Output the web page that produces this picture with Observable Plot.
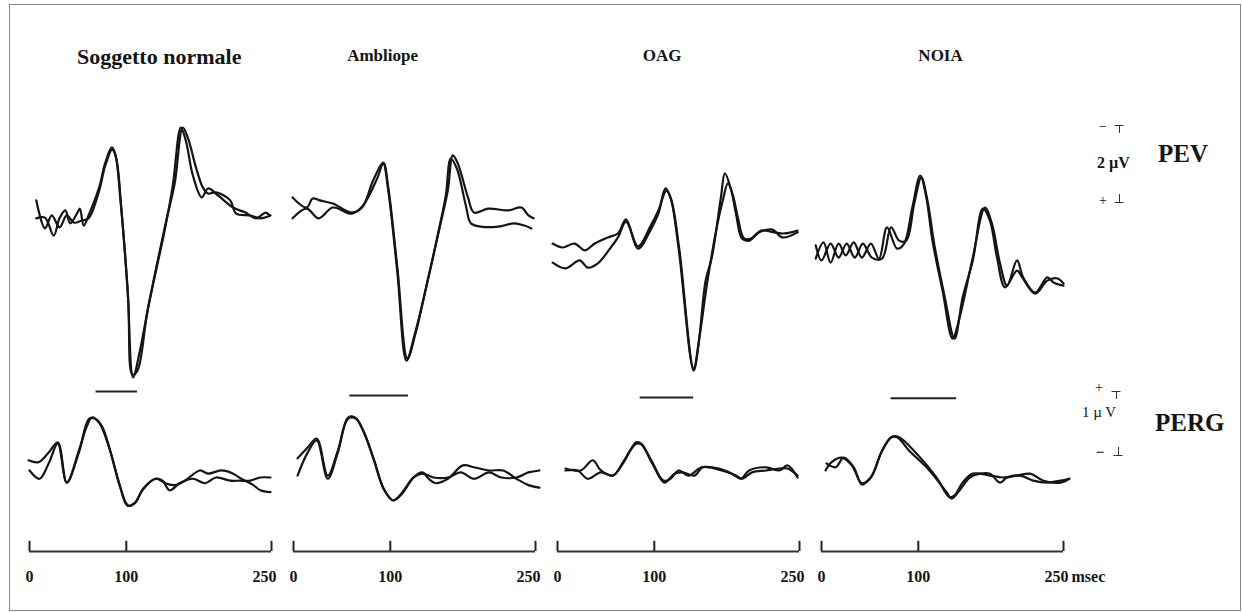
<!DOCTYPE html>
<html><head><meta charset="utf-8">
<script src="https://cdn.jsdelivr.net/npm/d3@7"></script>
<script src="https://cdn.jsdelivr.net/npm/@observablehq/plot@0.6"></script>
<style>
body{margin:0;background:#fff;}
#wrap{position:relative;width:1242px;height:612px;overflow:hidden;background:#fff;}
#wrap > svg{display:block;}
#over{position:absolute;left:0;top:0;pointer-events:none;}
</style></head><body><div id="wrap"></div>
<script>
// ---------- categories & tick labels ----------
const groups = ["Soggetto normale", "Ambliope", "OAG", "NOIA"];
const timeTicks = [0, 100, 250];           // msec
// ---------- PEV traces: [msec, µV] (negative drawn upward) ----------
const pev_normale_a = [[7,-0.06],[16,-0.08],[25,0.42],[31,-0.06],[37,-0.28],[42,0.08],[49,-0.19],[52,-0.33],[56,0.14],[61,-0.14],[72,-0.92],[78,-1.58],[85,-2.03],[88.5,-1.86],[94,-0.56],[101,1.75],[107,4.36],[113.5,3.69],[124,2.22],[140.6,0.08],[150,-1.03],[158.3,-2.58],[163.5,-2.31],[172,-1.47],[179,-0.92],[184.4,-0.75],[192.7,-0.78],[207.3,-0.56],[213.5,-0.19],[228,-0.14],[238.5,-0.06],[249,-0.14]];
const pev_normale_b = [[7,-0.56],[16,0.22],[23,-0.14],[31,0.19],[38.5,-0.14],[46,0.06],[54,0],[61,-0.06],[72,-0.83],[78,-1.5],[85.4,-1.97],[89.6,-1.72],[95,-0.28],[102,2.22],[106.3,4.28],[111.5,4.17],[122,2.5],[139.6,0.28],[148,-0.97],[156.3,-2.58],[161.5,-2.22],[168.8,-1.25],[178,-0.64],[184.4,-0.89],[195,-0.69],[210.4,-0.36],[223,-0.22],[234,-0.06],[244,-0.22],[248,-0.14]];
const pev_ambliope_a = [[-1,-0.64],[13.5,-0.36],[19.8,-0.61],[27,-0.56],[40.6,-0.47],[60.4,-0.22],[70.8,-0.36],[82.3,-1.11],[92.7,-1.61],[97.9,-0.92],[107.3,1.31],[117.7,3.83],[126,3.14],[138.5,1.67],[152,0.08],[159.4,-0.83],[164.6,-1.81],[169.8,-1.58],[180.2,-0.64],[186.5,-0.22],[201,-0.33],[221.9,-0.28],[235.4,-0.36],[242.7,-0.14],[248,-0.06]];
const pev_ambliope_b = [[-1,-0.06],[13.5,-0.33],[26,-0.06],[40.6,-0.36],[60.4,-0.19],[71.9,-0.42],[86.5,-1.17],[92.7,-1.58],[97.9,-0.83],[107.3,1.44],[116.7,3.89],[125,3.19],[137.5,1.81],[150,0.28],[157.3,-0.69],[162.5,-1.72],[168.8,-1.44],[178,-0.42],[183.3,0.08],[193.8,0.17],[211.5,0.17],[228,0.08],[238.5,0.14],[245.8,0.22]];
const pev_oag_a = [[-5,0.64],[5.2,0.75],[17.7,0.64],[28.1,0.83],[38.5,0.64],[52,0.47],[62.5,0.36],[70.8,-0.03],[83.3,0.78],[95.8,0.28],[104.2,-0.19],[111.5,-0.89],[116.7,-0.64],[125,0.75],[140.6,4.17],[145.8,3.42],[153,1.67],[159.4,1.03],[168.8,-0.64],[172.9,-1.31],[179,-0.89],[184.4,-0.19],[190.6,0.5],[197.9,0.56],[208.3,0.33],[221.9,0.25],[232.3,0.47],[248,0.33]];
const pev_oag_b = [[-5,1.17],[8.3,1.33],[22.9,1.11],[31.3,1.31],[41.7,1.19],[54.2,0.78],[62.5,0.47],[70.8,0.03],[83.3,0.72],[95.8,0.17],[104.2,-0.28],[112.5,-0.83],[117.7,-0.56],[126,0.83],[140.6,4.11],[146.9,3.19],[154.2,1.81],[163.5,0.33],[170.8,-0.56],[176,-1.03],[181.3,-0.69],[186.5,-0.06],[192.7,0.5],[200,0.5],[210.4,0.28],[224,0.33],[234.4,0.36],[248,0.28]];
const pev_noia_a = [[-6,1.06],[2.1,0.61],[9.4,1.17],[17.7,0.64],[25,0.97],[33.3,0.61],[41.7,1.03],[51,0.64],[59.4,1.06],[67.7,0.19],[78.1,0.78],[85.4,0.64],[93.8,-0.36],[102,-1.25],[108.3,-0.64],[114.6,0.56],[125,1.94],[135.4,3.28],[142.7,2.69],[156.3,1.03],[168.8,-0.36],[176,0.08],[184.4,1.19],[191.7,1.81],[202,1.11],[208.3,1.58],[220.8,2],[233.3,1.58],[239.6,1.72],[250,1.81]];
const pev_noia_b = [[-6,0.69],[0,1.11],[9.4,0.64],[17.7,1.03],[26,0.64],[34.4,1.03],[42.7,0.64],[52,1.03],[62.5,1.06],[71.9,0.19],[80.2,0.56],[87.5,0.56],[95.8,-0.47],[103.1,-1.19],[109.4,-0.56],[116.7,0.69],[127,2.08],[137.5,3.28],[145.8,2.14],[156.3,1.11],[166.7,-0.33],[174,0],[181.3,1.03],[189.6,1.86],[202,1.39],[207.3,1.58],[220.8,2.03],[233.3,1.67],[243.8,1.61],[250,1.75]];
// ---------- PERG traces: [msec, µV] (positive upward) ----------
const perg_normale_a = [[-1,0.16],[9.4,0.13],[19.8,0.28],[29.2,0.44],[38.5,-0.19],[51,0.31],[59.4,0.7],[64.6,0.83],[71.9,0.75],[82.3,0.36],[92.7,-0.2],[101,-0.55],[108.3,-0.52],[116.7,-0.31],[130.2,-0.13],[140.6,-0.2],[150,-0.23],[160.4,-0.16],[176,0],[184.4,-0.05],[198,0],[210.4,-0.05],[218.8,-0.13],[231.3,-0.23],[238.5,-0.31],[249,-0.34]];
const perg_normale_b = [[0,0],[10.4,-0.13],[19.8,0.11],[29.2,0.42],[38.5,-0.19],[51,0.28],[61.5,0.81],[67.7,0.81],[75,0.69],[83.3,0.31],[93.8,-0.27],[102,-0.55],[109.4,-0.5],[117.7,-0.28],[130.2,-0.13],[137.5,-0.16],[144.8,-0.31],[155.2,-0.2],[168.8,-0.13],[181.3,-0.2],[192.7,-0.11],[207.3,-0.16],[217.7,-0.16],[228,-0.16],[238.5,-0.11],[249,-0.11]];
const perg_ambliope_a = [[4.2,0.19],[14.6,0.36],[24,0.5],[35.4,-0.08],[45.8,0.31],[56.3,0.83],[63.5,0.83],[71.9,0.63],[82.3,0.2],[92.7,-0.27],[103.1,-0.47],[112.5,-0.36],[124,-0.11],[133.3,-0.03],[139.6,-0.13],[146.9,-0.2],[159.4,-0.13],[175,0.08],[186.5,0.05],[202,0],[216.7,0],[230.2,-0.13],[242.7,-0.23],[254,-0.27]];
const perg_ambliope_b = [[4.2,-0.08],[14.6,0.28],[24,0.47],[35.4,-0.13],[45.8,0.28],[56.3,0.81],[64.6,0.81],[72.9,0.59],[83.3,0.16],[93.8,-0.31],[103.1,-0.47],[112.5,-0.34],[124,-0.11],[133.3,-0.05],[144.8,-0.11],[159.4,-0.11],[172.9,-0.03],[186.5,-0.13],[202,-0.03],[214.6,-0.11],[230.2,-0.11],[242.7,-0.03],[254,0]];
const perg_oag_a = [[8.3,0.03],[24,0],[36.5,0.16],[44.8,0],[57.3,-0.08],[67.7,0.13],[76,0.34],[81.3,0.44],[86.5,0.42],[96.9,0.16],[109.4,-0.16],[116.7,-0.13],[125,0],[135.4,-0.08],[149,0.05],[166.7,0.03],[180.2,-0.05],[189.6,-0.13],[197.9,0],[215.6,0.05],[229.2,0],[237.5,0.08],[248,-0.11]];
const perg_oag_b = [[8.3,0],[20.8,0],[31.3,-0.13],[44.8,-0.03],[57.3,-0.08],[67.7,0.11],[76,0.33],[81.3,0.42],[86.5,0.41],[97.9,0.11],[110.4,-0.19],[121,-0.05],[129.2,-0.03],[141.7,-0.08],[150,0.05],[169.8,0],[184.4,-0.08],[190.6,-0.13],[201,-0.03],[215.6,0],[229.2,0.03],[237.5,0.03],[248,-0.08]];
const perg_noia_a = [[4.2,0],[10.4,0.13],[20.8,0.2],[31.3,0.08],[41.7,-0.2],[51,-0.11],[61.5,0.27],[71.9,0.52],[78.1,0.52],[90.6,0.31],[111.5,0],[129.2,-0.34],[134.4,-0.44],[142.7,-0.31],[153.1,-0.11],[163.5,-0.05],[174,-0.05],[184.4,-0.19],[191.7,-0.11],[205.2,-0.08],[218.8,-0.16],[233.3,-0.19],[246.9,-0.16],[256,-0.13]];
const perg_noia_b = [[5.2,0.11],[14.6,0.05],[22.9,0.2],[33.3,0.05],[41.7,-0.22],[52.1,-0.08],[62.5,0.31],[72.9,0.53],[80.2,0.52],[97.9,0.27],[118.8,-0.11],[132.3,-0.42],[137.5,-0.39],[145.8,-0.19],[156.3,-0.05],[174,-0.08],[187.5,-0.11],[202,-0.08],[215.6,-0.05],[229.2,-0.16],[246.9,-0.19],[256,-0.13]];
// ---------- horizontal bars under PEV (msec range) ----------
const barStart = [68.8, 58.3, 85.4, 71.9];
const barEnd   = [111.5, 118.8, 140.6, 139.6];
const barLevel = [4.75, 4.86, 4.92, 4.94];   // µV position on PEV scale
// ---------- layout constants ----------
const titleAt = [134, 92, 108, 123];          // msec where each title is centred
const titleSize = [22, 17, 17, 17];
const serif = "'Liberation Serif','Times New Roman',serif";
const ink = "#151515";

// ---------- build tidy tables ----------
function tidy(list) {
  const out = [];
  list.forEach(([group, trace, pts]) => pts.forEach(([t, v]) => out.push({group, trace: group + trace, t, v})));
  return out;
}
const pevData = tidy([
  [groups[0], "a", pev_normale_a], [groups[0], "b", pev_normale_b],
  [groups[1], "a", pev_ambliope_a], [groups[1], "b", pev_ambliope_b],
  [groups[2], "a", pev_oag_a], [groups[2], "b", pev_oag_b],
  [groups[3], "a", pev_noia_a], [groups[3], "b", pev_noia_b]
]);
const pergData = tidy([
  [groups[0], "a", perg_normale_a], [groups[0], "b", perg_normale_b],
  [groups[1], "a", perg_ambliope_a], [groups[1], "b", perg_ambliope_b],
  [groups[2], "a", perg_oag_a], [groups[2], "b", perg_oag_b],
  [groups[3], "a", perg_noia_a], [groups[3], "b", perg_noia_b]
]);
const bars = groups.map((g, i) => ({group: g, start: barStart[i], end: barEnd[i], level: barLevel[i]}));
const titles = groups.map((g, i) => ({group: g, at: titleAt[i], size: titleSize[i]}));

const fxOpts = {domain: groups, paddingInner: 0.082, paddingOuter: 0, axis: null, label: null};
const common = {width: 1242, marginLeft: 28, marginRight: 177, style: {background: "#fff", overflow: "visible"}};

const pevY = [-3.5, 5];
const pev = Plot.plot({
  ...common, height: 410, marginTop: 94, marginBottom: 10,
  fx: fxOpts,
  x: {domain: [0, 250], axis: null},
  y: {domain: pevY, reverse: true, axis: null},
  marks: [
    Plot.line(pevData, {fx: "group", x: "t", y: "v", z: "trace", curve: "catmull-rom", stroke: ink, strokeWidth: 2.2}),
    Plot.ruleY(bars, {fx: "group", y: "level", x1: "start", x2: "end", stroke: "#222", strokeWidth: 2}),
    Plot.text(titles, {fx: "group", x: "at", text: "group", frameAnchor: "top", dy: -46,
      fontSize: "size", fontWeight: "bold", fontFamily: serif, fill: ink})
  ]
});

const pergY = [-1.27, 0.94];
const tickUp = 0.16;
const perg = Plot.plot({
  ...common, height: 202, marginTop: 0, marginBottom: 61,
  fx: fxOpts,
  x: {domain: [0, 250], axis: null},
  y: {domain: pergY, axis: null},
  marks: [
    Plot.line(pergData, {fx: "group", x: "t", y: "v", z: "trace", curve: "catmull-rom", stroke: ink, strokeWidth: 2.2}),
    Plot.ruleY([pergY[0]], {stroke: "#333", strokeWidth: 1.8}),
    Plot.ruleX(timeTicks, {x: d => d, y1: pergY[0], y2: pergY[0] + tickUp, stroke: "#222", strokeWidth: 2}),
    Plot.text(timeTicks.filter(d => d < 250), {x: d => d, text: d => String(d), frameAnchor: "bottom", dy: 30,
      fontSize: 16, fontWeight: "bold", fontFamily: serif, fill: ink}),
    Plot.text(timeTicks.filter(d => d === 250), {x: d => d, text: d => String(d), frameAnchor: "bottom", dy: 30, dx: 5,
      textAnchor: "end", fontSize: 16, fontWeight: "bold", fontFamily: serif, fill: ink}),
    Plot.text(["msec"], {fx: () => groups[3], x: () => 250, text: d => d, frameAnchor: "bottom", dy: 30, dx: 8,
      textAnchor: "start", fontSize: 16, fontWeight: "bold", fontFamily: serif, fill: ink})
  ]
});

const wrap = document.getElementById("wrap");
wrap.appendChild(pev);
wrap.appendChild(perg);

// ---------- calibration marks and row labels (annotation layer) ----------
const over = d3.select(wrap).append("svg").attr("id", "over").attr("width", 1242).attr("height", 612);
over.append("rect").attr("x", 9.5).attr("y", 4.5).attr("width", 1231).attr("height", 606)
  .attr("fill", "none").attr("stroke", "#888").attr("stroke-width", 1);
// calibration bar end caps: [x, y, direction] (direction +1 = cap on top, stem down)
const caps = [[1119, 125, 1], [1119, 202, -1], [1116, 391, 1], [1118, 455, -1]];
caps.forEach(([x, y, dir]) => {
  over.append("line").attr("x1", x - 4.5).attr("x2", x + 4.5).attr("y1", y + 0.5).attr("y2", y + 0.5)
    .attr("stroke", "#333").attr("stroke-width", 1);
  over.append("line").attr("x1", x + 0.5).attr("x2", x + 0.5).attr("y1", y).attr("y2", y + dir * 8)
    .attr("stroke", "#333").attr("stroke-width", 1);
});
const notes = [
  {x: 1158, y: 162, t: "PEV", s: 25, w: "bold", a: "start"},
  {x: 1103, y: 131, t: "\u2212", s: 14, w: "normal", a: "middle"},
  {x: 1097, y: 168, t: "2 \u00B5V", s: 16, w: "bold", a: "start"},
  {x: 1103, y: 205, t: "+", s: 14, w: "normal", a: "middle"},
  {x: 1099, y: 392, t: "+", s: 14, w: "normal", a: "middle"},
  {x: 1082, y: 417, t: "1 \u00B5 V", s: 15, w: "normal", a: "start"},
  {x: 1155, y: 431, t: "PERG", s: 25, w: "bold", a: "start"},
  {x: 1100, y: 457, t: "\u2212", s: 15, w: "bold", a: "middle"}
];
over.selectAll("text.note").data(notes).join("text").attr("class", "note")
  .attr("x", d => d.x).attr("y", d => d.y).attr("text-anchor", d => d.a)
  .attr("font-family", serif).attr("font-size", d => d.s).attr("font-weight", d => d.w)
  .attr("fill", ink).text(d => d.t);
</script>
</body></html>
